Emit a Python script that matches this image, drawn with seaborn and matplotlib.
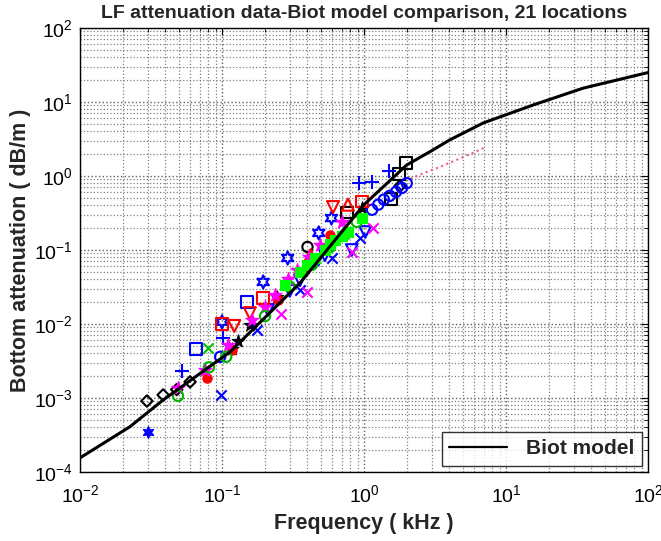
import matplotlib
matplotlib.use("Agg")
import matplotlib.pyplot as plt
import seaborn as sns
import pandas as pd
import numpy as np
from matplotlib.ticker import LogLocator, NullFormatter

# ---------------- data ----------------
biot_f = [0.01, 0.0225, 0.0385, 0.114, 0.355, 1.0, 2.0, 3.0, 4.0, 6.9, 15.5, 35.0, 100.0]
biot_a = [1.55e-4, 4.1e-4, 9.4e-4, 4.2e-3, 0.036, 0.41, 1.41, 2.2, 3.06, 5.2, 9.1, 15.4, 25.0]

dot_f = [1.8, 2.5, 3.5, 5.0, 7.0]
dot_a = [0.8, 1.05, 1.35, 1.8, 2.4]

blk_diam_f = [0.0296, 0.0385, 0.048, 0.0596, 1.79]
blk_diam_a = [9.1e-4, 1.1e-3, 1.3e-3, 1.65e-3, 0.73]

blk_sq_f = [0.76, 1.55, 1.76, 1.98]
blk_sq_a = [0.32, 0.49, 1.07, 1.5]

blk_star_f = [0.118, 0.13, 0.157, 0.244, 0.97]
blk_star_a = [4.6e-3, 5.9e-3, 9.8e-3, 0.023, 0.37]

blk_circ_f = [0.40]
blk_circ_a = [0.11]

blu_sq_f = [0.0656, 0.15]
blu_sq_a = [4.6e-3, 0.020]

blu_plus_f = [0.052, 0.1016, 0.92, 1.14, 1.5]
blu_plus_a = [2.3e-3, 6.5e-3, 0.80, 0.82, 1.17]

blu_hex_f = [0.1, 0.195, 0.29, 0.48, 0.59]
blu_hex_a = [0.0107, 0.037, 0.078, 0.17, 0.27]

blu_fstar_f = [0.030]
blu_fstar_a = [3.5e-4]

blu_x_f = [0.0985, 0.176, 0.354, 0.60, 0.94]
blu_x_a = [1.1e-3, 8.3e-3, 0.029, 0.078, 0.145]

blu_circ_f = [0.097, 0.45, 1.14, 1.26, 1.38, 1.52, 1.68, 1.85, 2.0]
blu_circ_a = [3.6e-3, 0.07, 0.35, 0.41, 0.48, 0.54, 0.61, 0.69, 0.80]

blu_tri_f = [0.211, 0.30, 0.354, 0.53, 0.82, 1.02]
blu_tri_a = [0.0155, 0.028, 0.039, 0.085, 0.10, 0.175]

red_tri_f = [0.122, 0.157, 0.605]
red_tri_a = [9.4e-3, 0.014, 0.38]

red_sq_f = [0.1, 0.195, 0.97]
red_sq_a = [0.01, 0.0224, 0.45]

red_up_f = [0.42, 0.77]
red_up_a = [0.085, 0.41]

red_dot_f = [0.078, 0.118, 0.248, 0.385, 0.577]
red_dot_a = [1.86e-3, 4.5e-3, 0.021, 0.054, 0.16]

mag_x_f = [0.26, 0.397, 0.82, 1.16]
mag_x_a = [0.0135, 0.027, 0.094, 0.20]

mag_star_f = [0.049, 0.076, 0.110, 0.163, 0.2, 0.236, 0.29, 0.337, 0.41, 0.49, 0.70]
mag_star_a = [1.36e-3, 2.4e-3, 5.2e-3, 0.0113, 0.017, 0.0245, 0.04, 0.054, 0.08, 0.117, 0.24]

grn_circ_f = [0.049, 0.081, 0.107, 0.201, 0.30, 0.43, 0.577, 0.73, 0.89]
grn_circ_a = [1.07e-3, 2.6e-3, 3.6e-3, 0.0128, 0.032, 0.063, 0.110, 0.159, 0.24]

grn_sq_f = [0.278, 0.354, 0.40, 0.452, 0.53, 0.58, 0.625, 0.70, 0.77, 0.97]
grn_sq_a = [0.034, 0.050, 0.062, 0.078, 0.10, 0.12, 0.136, 0.155, 0.175, 0.27]

grn_x_f = [0.080]
grn_x_a = [4.8e-3]

xticks = [1e-2, 1e-1, 1e0, 1e1, 1e2]
yticks = [1e-4, 1e-3, 1e-2, 1e-1, 1e0, 1e1, 1e2]

title = "LF attenuation data-Biot model comparison, 21 locations"
xlabel = "Frequency ( kHz )"
ylabel = "Bottom attenuation ( dB/m )"

# ---------------- style ----------------
sns.set_style("white")
plt.rcParams["font.family"] = ["Liberation Sans", "DejaVu Sans"]
plt.rcParams["mathtext.fontset"] = "custom"
plt.rcParams["mathtext.rm"] = "Liberation Sans"
plt.rcParams["mathtext.it"] = "Liberation Sans:italic"
plt.rcParams["mathtext.bf"] = "Liberation Sans:bold"

fig = plt.figure(figsize=(6.61, 5.41), dpi=100)
ax = fig.add_axes([80 / 661, 1 - 472 / 541, 568 / 661, 444 / 541])
ax.set_xscale("log")
ax.set_yscale("log")

# series: (f, a, marker, color, filled, size)
series = [
    (blk_diam_f, blk_diam_a, "D", "black", False, 34),
    (blk_sq_f, blk_sq_a, "s", "black", False, 70),
    (blk_star_f, blk_star_a, "*", "black", True, 90),
    (blk_circ_f, blk_circ_a, "o", "black", False, 55),
    (blu_sq_f, blu_sq_a, "s", "blue", False, 75),
    (blu_plus_f, blu_plus_a, "+", "blue", True, 90),
    (blu_hex_f, blu_hex_a, (6, 1, 0), "blue", False, 90),
    (blu_fstar_f, blu_fstar_a, (6, 1, 0), "blue", True, 75),
    (blu_x_f, blu_x_a, "x", "blue", True, 55),
    (blu_circ_f, blu_circ_a, "o", "blue", False, 55),
    (blu_tri_f, blu_tri_a, "v", "blue", False, 70),
    (red_tri_f, red_tri_a, "v", "red", False, 75),
    (red_sq_f, red_sq_a, "s", "red", False, 70),
    (red_up_f, red_up_a, "^", "red", False, 75),
    (red_dot_f, red_dot_a, "o", "red", True, 45),
    (mag_x_f, mag_x_a, "x", "magenta", True, 55),
    (mag_star_f, mag_star_a, "*", "magenta", True, 100),
    (grn_circ_f, grn_circ_a, "o", "#00b400", False, 55),
    (grn_sq_f, grn_sq_a, "s", "#00ff00", True, 50),
    (grn_x_f, grn_x_a, "x", "#00c000", True, 55),
]

for f, a, mk, c, filled, s in series:
    df = pd.DataFrame({"f": f, "a": a})
    if mk in ("+", "x"):
        sns.scatterplot(data=df, x="f", y="a", marker=mk, color=c, s=s,
                        linewidth=1.5, ax=ax, zorder=3)
    elif filled:
        sns.scatterplot(data=df, x="f", y="a", marker=mk, color=c, s=s,
                        edgecolor=c, linewidth=0.8, ax=ax, zorder=3)
    else:
        sns.scatterplot(data=df, x="f", y="a", marker=mk, s=s,
                        facecolor="none", edgecolor=c, linewidth=1.5,
                        ax=ax, zorder=3)

dfd = pd.DataFrame({"f": dot_f, "a": dot_a})
sns.lineplot(data=dfd, x="f", y="a", color="#e8607a", linestyle=":",
             linewidth=1.5, ax=ax, zorder=2)

dfb = pd.DataFrame({"f": biot_f, "a": biot_a})
sns.lineplot(data=dfb, x="f", y="a", color="black", linewidth=2.2,
             ax=ax, zorder=4, label="Biot model", sort=False)

ax.set_xlim(1e-2, 1e2)
ax.set_ylim(1e-4, 1e2)
ax.set_xticks(xticks)
ax.set_yticks(yticks)
ax.xaxis.set_minor_locator(LogLocator(base=10, subs=np.arange(2, 10), numticks=50))
ax.yaxis.set_minor_locator(LogLocator(base=10, subs=np.arange(2, 10), numticks=50))
ax.xaxis.set_minor_formatter(NullFormatter())
ax.yaxis.set_minor_formatter(NullFormatter())

ax.grid(True, which="major", linestyle=":", color="#606060", linewidth=1.0)
ax.grid(True, which="minor", linestyle=":", color="#808080", linewidth=0.9)
ax.set_axisbelow(True)

ax.tick_params(which="both", direction="in", top=True, right=True,
               colors="black", labelsize=14)
ax.tick_params(which="major", length=5, width=0.8)
ax.tick_params(which="minor", length=3, width=0.6)
ax.tick_params(axis="x", pad=9)
ax.tick_params(axis="y", pad=5)
for sp in ax.spines.values():
    sp.set_color("black")
    sp.set_linewidth(1.0)

ax.set_title(title, fontsize=14, fontweight="bold", pad=7)
ax.set_xlabel(xlabel, fontsize=15.5, fontweight="bold", labelpad=5)
ax.set_ylabel(ylabel, fontsize=15.5, fontweight="bold", labelpad=2)

leg = ax.legend(loc="lower right", fontsize=15, frameon=True, fancybox=False,
                borderaxespad=0.3, handlelength=2.8, borderpad=0.35,
                handletextpad=0.9)
leg.get_frame().set_edgecolor("black")
leg.get_frame().set_linewidth(1.0)
for t in leg.get_texts():
    t.set_fontweight("bold")
for ln in leg.get_lines():
    ln.set_linewidth(1.6)

fig.savefig("out.png", dpi=100, facecolor="white")
